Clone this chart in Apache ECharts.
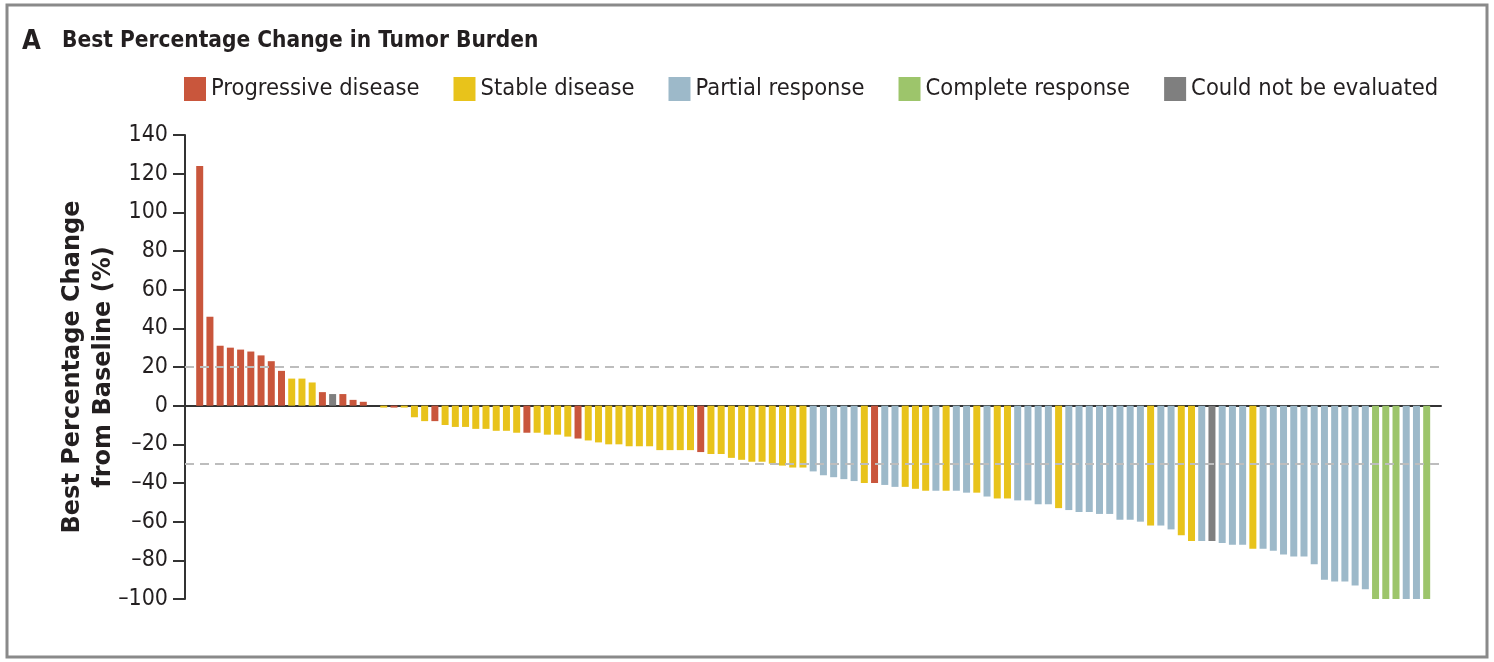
<!DOCTYPE html>
<html>
<head>
<meta charset="utf-8">
<script src="https://cdn.jsdelivr.net/npm/echarts@6/dist/echarts.min.js"></script>
<style>
html,body{margin:0;padding:0;background:#fff;}
#chart{width:1494px;height:662px;}
</style>
</head>
<body>
<div id="chart"></div>
<script>
// Response category labels (legend order)
const categories = ['Progressive disease', 'Stable disease', 'Partial response', 'Complete response', 'Could not be evaluated'];
const categoryCodes = ['PD', 'SD', 'PR', 'CR', 'NE'];
const categoryColors = ['#C9563C', '#E8C31B', '#9DB9C9', '#9DC56B', '#7F7F7F'];

// Best percentage change per patient (sorted, waterfall order)
const changeValues = [
  124, 46, 31, 30, 29, 28, 26, 23, 18, 14,
  14, 12, 7, 6, 6, 3, 2, 0, -1, -1,
  -1, -6, -8, -8, -10, -11, -11, -12, -12, -13,
  -13, -14, -14, -14, -15, -15, -16, -17, -18, -19,
  -20, -20, -21, -21, -21, -23, -23, -23, -23, -24,
  -25, -25, -27, -28, -29, -29, -30, -31, -32, -32,
  -34, -36, -37, -38, -39, -40, -40, -41, -42, -42,
  -43, -44, -44, -44, -44, -45, -45, -47, -48, -48,
  -49, -49, -51, -51, -53, -54, -55, -55, -56, -56,
  -59, -59, -60, -62, -62, -64, -67, -70, -70, -70,
  -71, -72, -72, -74, -74, -75, -77, -78, -78, -82,
  -90, -91, -91, -93, -95, -100, -100, -100, -100, -100,
  -100
];

// Response for each patient (same order as changeValues)
const responses = [
  'PD','PD','PD','PD','PD','PD','PD','PD','PD','SD',
  'SD','SD','PD','NE','PD','PD','PD','SD','SD','PD',
  'SD','SD','SD','PD','SD','SD','SD','SD','SD','SD',
  'SD','SD','PD','SD','SD','SD','SD','PD','SD','SD',
  'SD','SD','SD','SD','SD','SD','SD','SD','SD','PD',
  'SD','SD','SD','SD','SD','SD','SD','SD','SD','SD',
  'PR','PR','PR','PR','PR','SD','PD','PR','PR','SD',
  'SD','SD','PR','SD','PR','PR','SD','PR','SD','SD',
  'PR','PR','PR','PR','SD','PR','PR','PR','PR','PR',
  'PR','PR','PR','SD','PR','PR','SD','SD','PR','NE',
  'PR','PR','PR','SD','PR','PR','PR','PR','PR','PR',
  'PR','PR','PR','PR','PR','CR','CR','CR','PR','PR',
  'CR'
];

// Y-axis tick settings
const yMin = -100, yMax = 140, yInterval = 20;
const thresholds = [20, -30];

const narrow = "'Liberation Sans Narrow', 'DejaVu Sans Condensed', 'Roboto Condensed', 'Liberation Sans', sans-serif";
const textColor = '#231f20';

const series = categories.map((name, k) => {
  const code = categoryCodes[k];
  const data = [];
  changeValues.forEach((v, i) => { if (responses[i] === code) data.push([i, v]); });
  const s = {
    name: name,
    type: 'bar',
    data: data,
    barWidth: 7,
    barGap: '-100%',
    itemStyle: { color: categoryColors[k] },
    animation: false
  };
  if (k === 0) {
    s.markLine = {
      silent: true,
      symbol: ['none', 'none'],
      label: { show: false },
      lineStyle: { color: '#BDBDBD', type: [9, 6], width: 2 },
      data: thresholds.map(t => ({ yAxis: t }))
    };
  }
  return s;
});

const chart = echarts.init(document.getElementById('chart'), null, { renderer: 'canvas' });
chart.setOption({
  animation: false,
  backgroundColor: '#fff',
  graphic: [{
    type: 'rect',
    shape: { x: 7, y: 5, width: 1480, height: 652 },
    style: { fill: 'none', stroke: '#8a8a8a', lineWidth: 3 },
    silent: true, z: -1
  }],
  title: [
    { text: 'A', left: 22, top: 28, padding: 0, textStyle: { fontFamily: narrow, fontWeight: 'bold', fontSize: 27, color: textColor } },
    { text: 'Best Percentage Change in Tumor Burden', left: 62, top: 30, padding: 0, textStyle: { fontFamily: narrow, fontWeight: 'bold', fontSize: 22.5, color: textColor } }
  ],
  legend: {
    data: categories,
    left: 184, top: 77, width: 1300, padding: 0,
    icon: 'rect', itemWidth: 22, itemHeight: 24, itemGap: 34,
    textStyle: { fontFamily: narrow, fontSize: 23.5, color: textColor },
    selectedMode: false
  },
  grid: { left: 185, right: 53, top: 135, bottom: 63, containLabel: false },
  xAxis: {
    type: 'value',
    min: -1.438, max: 121.40,
    axisLine: { show: true, onZero: true, lineStyle: { color: '#333', width: 2 } },
    axisTick: { show: false },
    axisLabel: { show: false },
    splitLine: { show: false }
  },
  yAxis: {
    type: 'value',
    min: yMin, max: yMax, interval: yInterval,
    name: 'Best Percentage Change\nfrom Baseline (%)',
    nameLocation: 'middle',
    nameGap: 66,
    nameMoveOverlap: false,
    nameTextStyle: { fontFamily: "'DejaVu Sans', sans-serif", fontWeight: 'bold', fontSize: 24, color: textColor, lineHeight: 31 },
    axisLine: { show: true, onZero: false, lineStyle: { color: '#333', width: 2 } },
    axisTick: { show: true, length: 12, lineStyle: { color: '#333', width: 2 } },
    axisLabel: {
      margin: 17,
      fontFamily: narrow, fontSize: 23, color: textColor,
      formatter: v => String(v).replace('-', '\u2013')
    },
    splitLine: { show: false }
  },
  series: series
});
</script>
</body>
</html>
